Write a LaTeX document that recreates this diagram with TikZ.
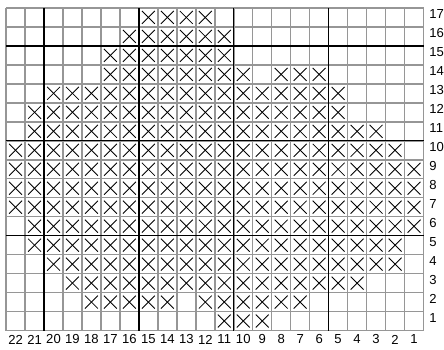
\documentclass[tikz,border=0pt]{standalone}
\usepackage{fontspec}
\setmainfont{Liberation Sans}
\usepackage{tikz}
\definecolor{gridgray}{RGB}{150,150,150}

\tikzset{
  minor/.style={gridgray, line width=1.1pt},
  major/.style={black, line width=1pt},
  stitch/.style={black, line width=0.65pt},
  numlabel/.style={inner sep=0pt, font=\fontsize{9.8}{11}\selectfont}
}

\begin{document}
\begin{tikzpicture}[x=0.5cm, y=0.5cm]
      \useasboundingbox (-0.32,-0.98) rectangle (23.08,17.42);

      % Grid
      \foreach \i in {0,...,22} {
        \draw[minor] (\i,0) -- (\i,17);
      }
      \foreach \j in {0,...,17} {
        \draw[minor] (0,\j) -- (22,\j);
      }
      \foreach \k in {5,10,15,20} {
        \draw[major] (22-\k,0) -- (22-\k,17);
      }
      \foreach \k in {5,10,15} {
        \draw[major] (0,\k) -- (22,\k);
      }

      % Crosses (row / first column / last column)
      \foreach \r/\a/\b in {17/15/12, 16/16/11, 15/17/11, 14/17/10, 14/8/6,
          13/20/5, 12/21/5, 11/21/3, 10/22/2, 9/22/1, 8/22/1, 7/22/1,
          6/21/1, 5/21/2, 4/20/2, 3/19/4, 2/18/14, 2/12/7, 1/11/9} {
        \foreach \c in {\a,...,\b} {
          \draw[stitch] (22.16-\c,\r-0.84) -- (22.84-\c,\r-0.16);
          \draw[stitch] (22.16-\c,\r-0.16) -- (22.84-\c,\r-0.84);
        }
      }

      % Column numbers
      \foreach \c in {1,...,22} {
        \node[numlabel] (col\c) at (22.5-\c,-0.47) {\c};
      }

      % Row numbers
      \foreach \r in {1,...,17} {
        \node[numlabel, anchor=west] (row\r) at (22.3,\r-0.32) {\r};
      }

    \end{tikzpicture}
\end{document}
